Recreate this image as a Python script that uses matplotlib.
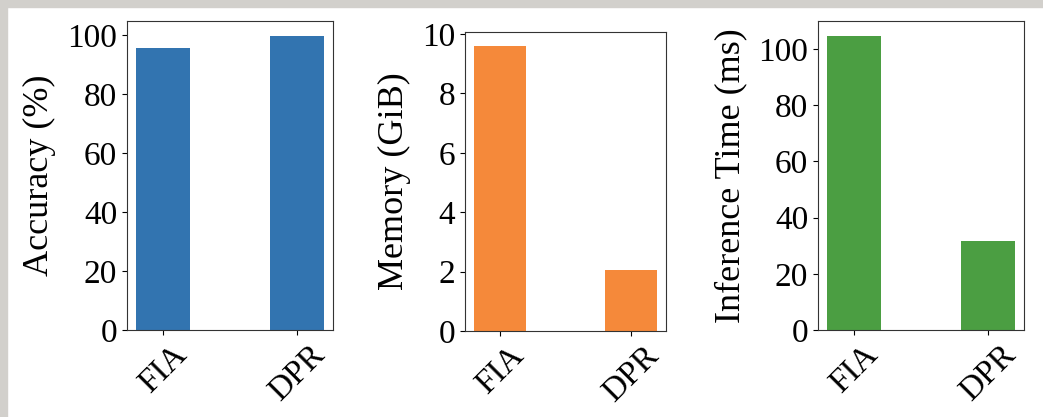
import matplotlib
matplotlib.use("Agg")
import matplotlib.pyplot as plt
from matplotlib.patches import Rectangle
from matplotlib.ticker import MultipleLocator

methods = ["FIA", "DPR"]
accuracy = [95.4, 99.7]
memory = [9.59, 2.06]
inference_ms = [104.7, 31.8]

ylabels = ["Accuracy (%)", "Memory (GiB)", "Inference Time (ms)"]
colors = ["#3274b0", "#f5893a", "#4b9e42"]
steps = [20, 2, 20]

plt.rcParams["font.family"] = "serif"
plt.rcParams["font.serif"] = ["Liberation Serif", "DejaVu Serif"]
plt.rcParams["font.size"] = 24

fig = plt.figure(figsize=(10.43, 4.17), dpi=100)

# screenshot frame on top and left
fig.patches.append(Rectangle((0, 1 - 7 / 417), 1, 7 / 417, transform=fig.transFigure,
                             color="#d2d0cc", zorder=0))
fig.patches.append(Rectangle((0, 0), 7 / 1043, 1, transform=fig.transFigure,
                             color="#d2d0cc", zorder=0))

positions = [
    [0.1218, 0.2086, 0.1975, 0.741],
    [0.4458, 0.2062, 0.1927, 0.717],
    [0.7843, 0.2086, 0.1975, 0.741],
]
series = [accuracy, memory, inference_ms]

for pos, vals, lab, col, st in zip(positions, series, ylabels, colors, steps):
    ax = fig.add_axes(pos)
    ax.bar(range(len(methods)), vals, width=0.4, color=col)
    ax.set_xticks(range(len(methods)))
    ax.set_xticklabels(methods, rotation=45)
    ax.yaxis.set_major_locator(MultipleLocator(st))
    ax.set_ylabel(lab, fontsize=26, labelpad=8)
    for s in ax.spines.values():
        s.set_color("#333333")

fig.savefig("out.png", dpi=100)
